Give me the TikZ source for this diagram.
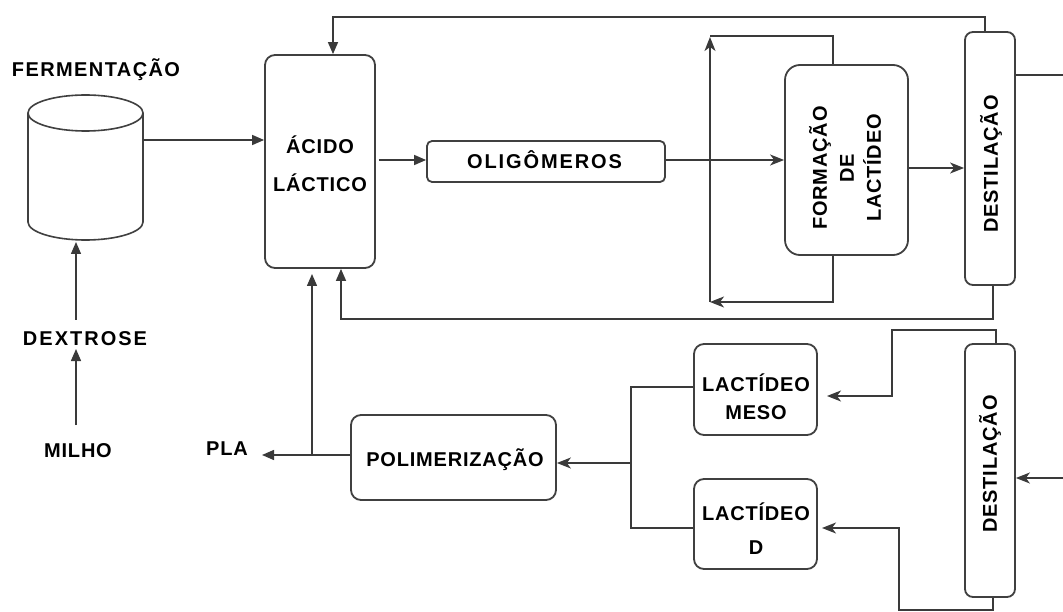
\documentclass[tikz,border=0pt]{standalone}
\usepackage{fontspec}
\setmainfont{Liberation Sans}[LetterSpace=4]
\usetikzlibrary{arrows.meta,calc}
\definecolor{linec}{HTML}{3A3A3A}
\definecolor{boxc}{HTML}{404040}
\newcommand\lbl{\fontsize{20}{24}\selectfont\bfseries}
\newcommand\wide[1]{\addfontfeature{LetterSpace=#1}}
\begin{document}
\begin{tikzpicture}[x=1pt,y=-1pt,
  box/.style={draw=boxc, line width=1.8pt, fill=white, rounded corners=9pt, inner sep=0pt},
  txt/.style={font=\lbl, inner sep=0pt, text=black, align=center},
  conn/.style={draw=linec, line width=1.4pt},
  tri/.style={conn, -{Triangle[length=12pt,width=10pt]}},
  stl/.style={conn, -{Stealth[length=14pt,width=11pt,inset=4pt]}}]
\fill[white] (0,0) rectangle (1063,612);
\useasboundingbox (0,0) rectangle (1063,612);

% fermentation tank
\node[minimum width=115pt, minimum height=145pt, inner sep=0pt] (ferm) at (85.5,167.5) {};
\draw[draw=boxc, line width=1.6pt, fill=white] (28,113) -- (28,222) arc[start angle=180, end angle=0, x radius=57.5, y radius=18] -- (143,113);
\draw[draw=boxc, line width=1.6pt, fill=white] (85.5,113) ellipse [x radius=57.5, y radius=18];
\node[txt, anchor=base] (fermt) at (96,77) {\wide{7}FERMENTAÇÃO};
\node[txt, anchor=base] (dex) at (85,345) {\wide{10}DEXTROSE};
\node[txt, anchor=base] (milho) at (78,457) {MILHO};
\node[txt, anchor=base] (pla) at (227,455) {PLA};

% boxes
\node[box, rounded corners=10pt, minimum width=110pt, minimum height=213pt] (acido) at (320,161.5) {};
\node[txt, font=\fontsize{20}{38}\selectfont\bfseries] (acidot) at (320,164) {ÁCIDO\\LÁCTICO};
\node[box, rounded corners=5pt, minimum width=238pt, minimum height=41pt] (olig) at (546,161.5) {};
\node[txt] (oligt) at (544.5,160) {\wide{9.5}OLIGÔMEROS};
\node[box, rounded corners=15pt, minimum width=123pt, minimum height=190pt] (form) at (846.5,160) {};
\node[txt, rotate=90, font=\fontsize{20}{27}\selectfont\bfseries] (formt) at (845,168) {FORMAÇÃO\\DE\\LACTÍDEO};
\node[box, rounded corners=8pt, minimum width=50pt, minimum height=253pt] (dest1) at (990,158.5) {};
\node[txt, rotate=90] (dest1t) at (991,164) {DESTILAÇÃO};
\node[box, rounded corners=8pt, minimum width=50pt, minimum height=253pt] (dest2) at (990,470.5) {};
\node[txt, rotate=90] (dest2t) at (990,464) {DESTILAÇÃO};
\node[box, rounded corners=10pt, minimum width=123pt, minimum height=91pt] (meso) at (755.5,389.5) {};
\node[txt, font=\fontsize{20}{28}\selectfont\bfseries] (mesot) at (756,397) {LACTÍDEO\\MESO};
\node[box, rounded corners=10pt, minimum width=123pt, minimum height=90pt] (lacd) at (755.5,524) {};
\node[txt, font=\fontsize{20}{34}\selectfont\bfseries] (lacdt) at (756,529) {LACTÍDEO\\D};
\node[box, rounded corners=10pt, minimum width=205pt, minimum height=85pt] (poli) at (453.5,457.5) {};
\node[txt] (polit) at (455,460) {POLIMERIZAÇÃO};

% coordinates
\coordinate (cylB) at (76,242);
\coordinate (dexS) at (76,349);
\coordinate (milN) at (76,425);
\coordinate (dexN) at (76,320);
\coordinate (fermR) at (143,140);
\coordinate (plaTip) at (262,455);
\coordinate (j1) at (312,455);
\coordinate (acIn) at (312,274);
\coordinate (j2) at (631,463);
\coordinate (mesoTip) at (827,396);
\coordinate (dTip) at (822,528);
\coordinate (edge1) at (1063,75);
\coordinate (edge2) at (1063,478);
\coordinate (loopL) at (710,302);

% connectors
\draw[tri] (milN) -- (dexS);
\draw[tri] (dexN) -- (cylB);
\draw[tri] (fermR) -- (acido.west |- fermR);
\draw[tri] ([xshift=3pt]acido.east |- 0,160) -- (olig.west |- 0,160);
\draw[stl] (olig.east |- 0,160) -- (form.west |- 0,160);
\draw[stl] (form.east |- 0,168) -- (dest1.west |- 0,168);
\draw[conn] (form.north -| 833,0) |- (710,36);
\draw[stl] (form.south -| 833,0) |- (loopL);
\draw[stl] (loopL) -- (710,37);
\draw[tri] (dest1.north -| 985,0) |- (333,17) -- (acido.north -| 333,0);
\draw[tri] (dest1.south -| 993,0) |- (341,319) -- (acido.south -| 341,0);
\draw[conn] (dest1.east |- edge1) -- (edge1);
\draw[tri] (poli.west |- plaTip) -- (plaTip);
\draw[tri] (j1) -- (acIn);
\draw[conn] (meso.west |- 0,387) -| (j2);
\draw[conn] (lacd.west |- 0,528) -| (j2);
\draw[stl] (j2) -- (poli.east |- j2);
\draw[stl] (dest2.north -| 996,0) |- (892,330) |- (mesoTip);
\draw[stl] (dest2.south -| 993,0) |- (899,610) |- (dTip);
\draw[stl] (edge2) -- (dest2.east |- edge2);
\end{tikzpicture}
\end{document}
